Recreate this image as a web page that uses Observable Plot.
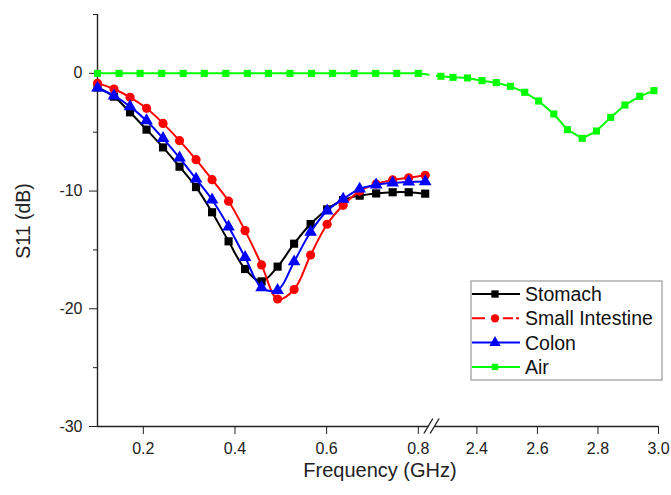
<!DOCTYPE html>
<html><head><meta charset="utf-8">
<script src="https://cdn.jsdelivr.net/npm/d3@7"></script>
<script src="https://cdn.jsdelivr.net/npm/@observablehq/plot@0.6"></script>
<style>body{margin:0;background:#fff} svg{display:block}</style>
</head><body><div id="chart"></div>
<script>
// ---- data ----
const freqTissue = [0.100,0.136,0.171,0.207,0.243,0.279,0.315,0.350,0.386,0.422,0.458,0.493,0.529,0.565,0.601,0.636,0.672,0.708,0.744,0.779,0.815];
const stomach        = [-1.20,-1.98,-3.31,-4.78,-6.29,-7.93,-9.66,-11.80,-14.27,-16.62,-17.67,-16.42,-14.47,-12.80,-11.56,-10.76,-10.39,-10.20,-10.10,-10.10,-10.22];
const smallIntestine = [-0.85,-1.33,-2.04,-2.97,-4.25,-5.72,-7.33,-9.03,-10.86,-13.36,-16.27,-19.17,-18.36,-15.43,-12.82,-11.21,-10.00,-9.40,-9.05,-8.87,-8.66];
const colon          = [-1.24,-1.90,-2.83,-4.02,-5.52,-7.18,-8.97,-10.74,-13.03,-15.63,-18.20,-18.43,-16.00,-13.48,-11.67,-10.68,-9.82,-9.47,-9.30,-9.22,-9.19];
const freqAir = [0.100,0.147,0.193,0.240,0.287,0.333,0.380,0.427,0.473,0.520,0.567,0.613,0.660,0.707,0.753,0.800,
                 2.281,2.321,2.369,2.417,2.464,2.511,2.558,2.604,2.654,2.699,2.748,2.795,2.842,2.889,2.938,2.985];
const air     = [0,0,0,0,0,0,0,0,0,0,0,0,0,0,0,0,
                 -0.25,-0.34,-0.39,-0.62,-0.79,-1.10,-1.61,-2.35,-3.45,-4.78,-5.52,-4.90,-3.74,-2.69,-1.95,-1.47];
const xTicks  = [0.2,0.4,0.6,0.8,2.4,2.6,2.8,3.0];
const yMajor  = [0,-10,-20,-30];
const yMinor  = [5,-5,-15,-25];
const axisBreak = [0.823, 2.262];   // GHz: lower segment ends, upper segment begins
const xRange = [0.1, 3.0];
const yRange = [-30, 5];
const seriesNames   = ["Stomach","Small Intestine","Colon","Air"];
const seriesColors  = ["#000000","#ff0000","#0000ff","#00ff00"];
const seriesSymbols = ["square","circle","triangle","square"];
const seriesR       = [4.6, 4.6, 4.7, 4.0];

// ---- broken-axis mapping (upper band compressed) ----
const U24 = 0.92784, K = 0.66043;
const toU = f => f < 1.5 ? f : U24 + (f - 2.4) * K;

const tissue = [stomach, smallIntestine, colon].map(vals => freqTissue.map((f, i) => ({f, v: vals[i]})));
const airRows = freqAir.map((f, i) => ({f, v: air[i]}));
const X = d => toU(d.f);
const tickLabel = u => { const t = xTicks.find(t => Math.abs(toU(t) - u) < 1e-6); return t === undefined ? "" : t.toFixed(1); };
const FONT = "Arial, 'Liberation Sans', sans-serif";

const marks = [
  Plot.axisX(xTicks.map(toU), {tickSize: 8, tickPadding: 8, tickFormat: tickLabel, label: null, stroke: "#222", fontSize: 16, fill: "#222"}),
  Plot.axisY(yMajor, {tickSize: 8, tickPadding: 7, tickFormat: d => String(d), label: null, stroke: "#222", fontSize: 16, fill: "#222"}),
  Plot.axisY(yMinor, {tickSize: 4, tickFormat: () => "", label: null, stroke: "#222"}),
  Plot.ruleX([xRange[0]], {y1: yRange[0], y2: yRange[1], stroke: "#222", strokeWidth: 1.4}),
  Plot.ruleY([[xRange[0], axisBreak[0]], [axisBreak[1], xRange[1]]],
             {x1: d => toU(d[0]), x2: d => toU(d[1]), y: () => yRange[0], stroke: "#222", strokeWidth: 1.4})
];
tissue.forEach((rows, k) => {
  marks.push(Plot.line(rows, {x: X, y: "v", stroke: seriesColors[k], strokeWidth: 2, curve: "catmull-rom"}));
  marks.push(Plot.dot(rows, {x: X, y: "v", symbol: seriesSymbols[k], r: seriesR[k], fill: seriesColors[k], stroke: "none"}));
});
marks.push(Plot.line(airRows, {x: X, y: "v", stroke: seriesColors[3], strokeWidth: 2}));
// gap in the air curve at the axis break
marks.push(Plot.rect([axisBreak], {x1: d => toU(d[0]) + 0.002, x2: d => toU(d[1]) + 0.003, y1: -0.8, y2: 0.6, fill: "white"}));
marks.push(Plot.dot(airRows, {x: X, y: "v", symbol: seriesSymbols[3], r: seriesR[3], fill: seriesColors[3], stroke: "none"}));

const svg = Plot.plot({
  width: 671, height: 495,
  marginLeft: 97, marginRight: 13, marginTop: 14, marginBottom: 69,
  style: {fontFamily: FONT, fontSize: "16px", color: "#222", background: "white", overflow: "visible"},
  x: {domain: [toU(xRange[0]), toU(xRange[1])]},
  y: {domain: yRange},
  marks
});
document.getElementById("chart").appendChild(svg);

// ---- decorations: break mark, axis titles, legend ----
const sx = svg.scale("x"), sy = svg.scale("y");
const s = d3.select(svg);
const yb = sy.apply(yRange[0]);
const g = s.append("g").attr("stroke", "#222").attr("stroke-width", 1.4);
[toU(axisBreak[0]), toU(axisBreak[1])].forEach(u => {
  const xc = sx.apply(u);
  g.append("line").attr("x1", xc - 4.5).attr("y1", yb + 7.5).attr("x2", xc + 4.5).attr("y2", yb - 7.5);
});
s.append("text").text("Frequency (GHz)")
  .attr("x", 380).attr("y", 470).attr("text-anchor", "middle").attr("dominant-baseline", "central")
  .attr("font-family", FONT).attr("font-size", 20).attr("fill", "#222");
s.append("text").text("S11 (dB)")
  .attr("transform", "translate(22.5,221) rotate(-90)").attr("text-anchor", "middle").attr("dominant-baseline", "central")
  .attr("font-family", FONT).attr("font-size", 19.5).attr("fill", "#222");

const lg = s.append("g");
lg.append("rect").attr("x", 471).attr("y", 281).attr("width", 191).attr("height", 99)
  .attr("fill", "white").attr("stroke", "#999").attr("stroke-width", 1.2);
const symMap = {square: d3.symbolSquare, circle: d3.symbolCircle, triangle: d3.symbolTriangle};
seriesNames.forEach((name, k) => {
  const yy = 294 + k * 24.3;
  const ln = lg.append("line").attr("x1", 472).attr("x2", 520).attr("y1", yy).attr("y2", yy)
    .attr("stroke", seriesColors[k]).attr("stroke-width", 2);
  if (k === 1) ln.attr("stroke-dasharray", "13 18 10 3 3");
  lg.append("path").attr("transform", `translate(495,${yy})`)
    .attr("d", d3.symbol(symMap[seriesSymbols[k]], Math.PI * (seriesR[k] * 0.9) ** 2)())
    .attr("fill", seriesColors[k]);
  lg.append("text").text(name).attr("x", 525).attr("y", yy).attr("dominant-baseline", "central")
    .attr("text-anchor", "start").attr("font-family", FONT).attr("font-size", 19.5).attr("fill", "#111");
});
</script>
</body></html>
